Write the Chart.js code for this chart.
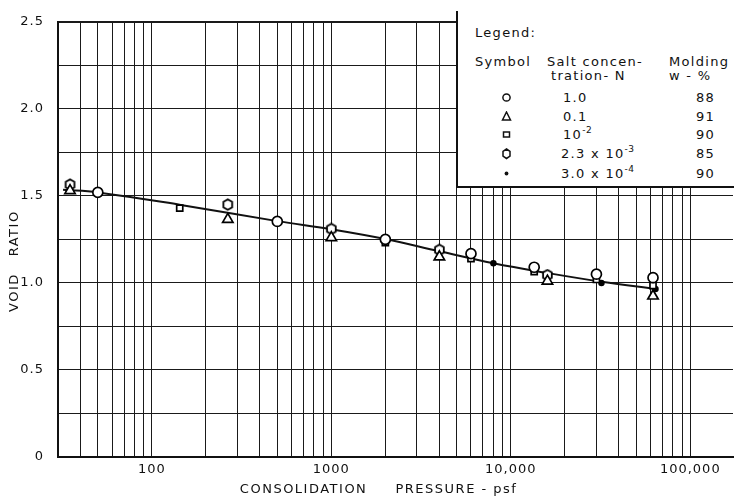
<!DOCTYPE html>
<html>
<head>
<meta charset="utf-8">
<script src="https://cdn.jsdelivr.net/npm/chart.js@4.4.0/dist/chart.umd.min.js"></script>
<style>
    html, body { margin: 0; padding: 0; background: #fff; }
    #wrap { position: relative; width: 734px; height: 499px; }
    #legendBox {
        position: absolute; left: 456px; top: 11px; width: 278px; height: 175px;
        background: #fff; border-left: 2px solid #111; border-bottom: 2px solid #111;
        font-family: 'DejaVu Sans', sans-serif; font-size: 13px; color: #111; letter-spacing: 1.3px;
    }
    #legendBox .t { position: absolute; white-space: nowrap; line-height: 13px; }
    #legendBox sup { font-size: 9px; line-height: 0; position: relative; top: -1px; letter-spacing: 0.5px; }
    #legendBox svg { position: absolute; }
</style>
</head>
<body>
<div id="wrap">
    <canvas id="voidRatioChart" width="734" height="499"></canvas>
    <div id="legendBox">
        <div class="t" style="left:17px;top:15px">Legend:</div>
        <div class="t" style="left:17px;top:44px">Symbol</div>
        <div class="t" style="left:89px;top:44px">Salt concen-</div>
        <div class="t" style="left:93px;top:58px">tration- N</div>
        <div class="t" style="left:211px;top:44px">Molding</div>
        <div class="t" style="left:211px;top:58px">w - %</div>

        <svg style="left:43px;top:81px" width="11" height="11"><circle cx="5.5" cy="5.5" r="3.6" fill="none" stroke="#111" stroke-width="1.5"/></svg>
        <div class="t" style="left:105px;top:80px">1.0</div>
        <div class="t" style="left:238px;top:80px">88</div>

        <svg style="left:43px;top:100px" width="11" height="11"><polygon points="5.5,1 9.5,9 1.5,9" fill="none" stroke="#111" stroke-width="1.5"/></svg>
        <div class="t" style="left:105px;top:99px">0.1</div>
        <div class="t" style="left:238px;top:99px">91</div>

        <svg style="left:43px;top:118px" width="11" height="11"><rect x="2.5" y="3" width="6" height="5" fill="none" stroke="#111" stroke-width="1.5"/></svg>
        <div class="t" style="left:105px;top:117px">10<sup>-2</sup></div>
        <div class="t" style="left:238px;top:117px">90</div>

        <svg style="left:43px;top:137px" width="11" height="12"><polygon points="5.5,1 9,3.3 9,8.2 5.5,10.5 2,8.2 2,3.3" fill="none" stroke="#111" stroke-width="1.5"/></svg>
        <div class="t" style="left:103px;top:136px">2.3 x 10<sup>-3</sup></div>
        <div class="t" style="left:238px;top:136px">85</div>

        <svg style="left:43px;top:157px" width="11" height="11"><circle cx="5.5" cy="5.5" r="1.9" fill="#111"/></svg>
        <div class="t" style="left:103px;top:156px">3.0 x 10<sup>-4</sup></div>
        <div class="t" style="left:238px;top:156px">90</div>
    </div>
</div>
<script>
// 坐标轴标题
var xTitle = 'CONSOLIDATION     PRESSURE - psf';
var yTitle = 'VOID   RATIO';

// 刻度标签
var xLabelValues = [100, 1000, 10000, 100000];
var xTickLabels = ['100', '1000', '10,000', '100,000'];
var yLabelValues = [0, 0.5, 1.0, 1.5, 2.0, 2.5];
var yTickLabels = ['0', '0.5', '1.0', '1.5', '2.0', '2.5'];

// 拟合曲线
var curveX = [32, 50, 145, 500, 1000, 2000, 4000, 8000, 16000, 32000, 66000];
var curveY = [1.535, 1.52, 1.448, 1.355, 1.308, 1.252, 1.182, 1.113, 1.057, 1.007, 0.965];

// 1.0 N (圆)
var circleX = [50, 500, 2000, 6000, 13500, 30000, 62000];
var circleY = [1.52, 1.353, 1.25, 1.168, 1.09, 1.05, 1.03];

// 0.1 N (三角)
var triangleX = [35, 265, 1000, 4000, 16000, 62000];
var triangleY = [1.53, 1.365, 1.26, 1.15, 1.01, 0.925];

// 10^-2 N (方块)
var squareX = [143, 2000, 6000, 13500, 30000, 62000];
var squareY = [1.43, 1.232, 1.14, 1.065, 1.02, 0.985];

// 2.3 x 10^-3 N (六边形)
var hexagonX = [35, 265, 1000, 4000, 16000];
var hexagonY = [1.565, 1.45, 1.31, 1.19, 1.045];

// 3.0 x 10^-4 N (黑点)
var dotX = [8000, 32000, 64000];
var dotY = [1.113, 1.0, 0.965];

function toPoints(xs, ys) {
    return xs.map(function(x, i) { return { x: x, y: ys[i] }; });
}

function makeHexagon(size) {
    var c = document.createElement('canvas');
    c.width = size;
    c.height = size;
    var g = c.getContext('2d');
    var r = size / 2 - 1.2;
    g.beginPath();
    for (var i = 0; i < 6; i++) {
        var a = Math.PI / 2 + i * Math.PI / 3;
        var px = size / 2 + r * Math.cos(a) * 0.95;
        var py = size / 2 - r * Math.sin(a);
        if (i === 0) g.moveTo(px, py); else g.lineTo(px, py);
    }
    g.closePath();
    g.fillStyle = '#fff';
    g.fill();
    g.lineWidth = 1.8;
    g.strokeStyle = '#000';
    g.stroke();
    return c;
}

// 对数网格线: 30 ... 100,000
function gridValues() {
    var vals = [];
    [10, 100, 1000, 10000].forEach(function(d) {
        for (var m = 1; m <= 9; m++) {
            var v = m * d;
            if (v >= 30) vals.push(v);
        }
    });
    vals.push(100000);
    return vals;
}

var axisTitles = {
    id: 'axisTitles',
    beforeDraw: function(chart) {
        chart.ctx.letterSpacing = '1px';
    },
    afterDraw: function(chart) {
        var ctx = chart.ctx, a = chart.chartArea;
        ctx.save();
        ctx.font = '13px "DejaVu Sans"';
        ctx.letterSpacing = '1.5px';
        ctx.fillStyle = '#111';
        ctx.textAlign = 'center';
        ctx.textBaseline = 'middle';
        ctx.fillText(xTitle, a.left + (a.right - a.left) * 0.475, chart.height - 9);
        ctx.translate(15, a.top + (a.bottom - a.top) * 0.55);
        ctx.rotate(-Math.PI / 2);
        ctx.fillText(yTitle, 0, 0);
        ctx.restore();
    }
};

var marker = {
    borderColor: '#000',
    backgroundColor: '#fff',
    pointBorderWidth: 1.7,
    showLine: false,
    order: 1
};

new Chart(document.getElementById('voidRatioChart'), {
    type: 'scatter',
    data: {
        datasets: [
            {
                label: 'curve',
                data: toPoints(curveX, curveY),
                showLine: true,
                borderColor: '#111',
                borderWidth: 2,
                tension: 0.4,
                pointRadius: 0,
                order: 10
            },
            Object.assign({ label: '1.0', data: toPoints(circleX, circleY), pointStyle: 'circle', pointRadius: 5 }, marker),
            Object.assign({ label: '0.1', data: toPoints(triangleX, triangleY), pointStyle: 'triangle', pointRadius: 6 }, marker),
            Object.assign({ label: '10^-2', data: toPoints(squareX, squareY), pointStyle: 'rect', pointRadius: 4.3 }, marker),
            Object.assign({ label: '2.3 x 10^-3', data: toPoints(hexagonX, hexagonY), pointStyle: makeHexagon(13) }, marker),
            Object.assign({ label: '3.0 x 10^-4', data: toPoints(dotX, dotY), pointStyle: 'circle', pointRadius: 2.4 }, marker, { backgroundColor: '#000' })
        ]
    },
    options: {
        responsive: false,
        animation: false,
        // 关闭自动留白, 让绘图区延伸到画布右缘
        layout: { autoPadding: false, padding: { top: 10, right: 1, left: 0, bottom: 0 } },
        plugins: {
            legend: { display: false },
            tooltip: { enabled: false }
        },
        scales: {
            x: {
                type: 'logarithmic',
                min: 30,
                max: 173000,
                afterBuildTicks: function(axis) {
                    axis.ticks = gridValues().map(function(v) { return { value: v }; });
                },
                afterFit: function(scale) {
                    scale.height = 42;
                    scale.paddingLeft = 0;
                    scale.paddingRight = 0;
                },
                ticks: {
                    autoSkip: false,
                    maxRotation: 0,
                    padding: 5,
                    color: '#111',
                    font: { family: 'DejaVu Sans', size: 13 },
                    callback: function(value) {
                        var i = xLabelValues.indexOf(value);
                        return i >= 0 ? xTickLabels[i] : '';
                    }
                },
                grid: {
                    drawTicks: false,
                    color: '#1a1a1a',
                    lineWidth: 1
                },
                border: { display: true, color: '#111', width: 2 }
            },
            y: {
                min: 0,
                max: 2.5,
                afterFit: function(scale) { scale.width = 58; },
                ticks: {
                    stepSize: 0.25,
                    autoSkip: false,
                    padding: 14,
                    color: '#111',
                    font: { family: 'DejaVu Sans', size: 13 },
                    callback: function(value) {
                        var i = yLabelValues.indexOf(Math.round(value * 100) / 100);
                        return i >= 0 ? yTickLabels[i] : '';
                    }
                },
                grid: {
                    drawTicks: false,
                    color: '#1a1a1a',
                    lineWidth: function(ctx) {
                        return ctx.tick && ctx.tick.value === 2.5 ? 2 : 1;
                    }
                },
                border: { display: true, color: '#111', width: 2 }
            }
        }
    },
    plugins: [axisTitles]
});
</script>
</body>
</html>
